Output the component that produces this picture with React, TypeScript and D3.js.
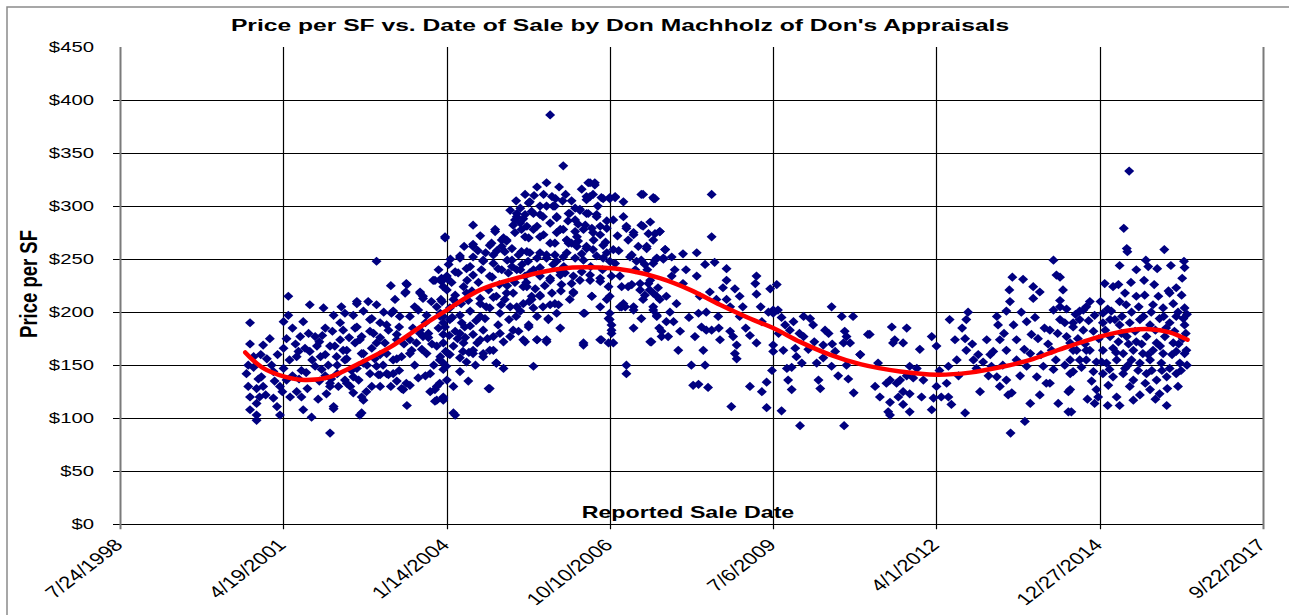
import React, { useEffect, useRef } from "react";
import * as d3 from "d3";

// [decimal year of sale, price per SF]
const sales2000to2002: [number, number][] = [
  [2000.74, 190], [2000.74, 170], [2000.71, 150], [2000.68, 142], [2000.8, 148], [2000.88, 137], [2000.71, 130],
  [2000.85, 128], [2000.74, 120], [2000.85, 114], [2000.74, 108], [2000.85, 103], [2000.85, 98], [2000.96, 169],
  [2001.07, 175], [2001.02, 156], [2000.93, 139], [2000.96, 130], [2001.13, 119], [2001.19, 111], [2001.24, 103],
  [2001.13, 144], [2001.3, 147], [2001.3, 166], [2001.3, 191], [2001.38, 197], [2001.38, 215], [2001.24, 130],
  [2001.35, 136], [2001.41, 120], [2001.52, 125], [2001.6, 120], [2001.63, 108], [2001.77, 101], [2001.52, 158],
  [2001.58, 177], [2001.63, 191], [2001.74, 207], [2001.74, 163], [2001.83, 177], [2001.86, 168], [2001.83, 149],
  [2001.94, 146], [2001.97, 204], [2002.08, 168], [2002.08, 130], [2002.02, 123], [2002.14, 111], [2002.08, 86],
  [2002.14, 197], [2002.25, 190], [2002.25, 174], [2002.3, 164], [2002.36, 156], [2002.33, 136], [2002.42, 130],
  [2002.47, 139], [2002.53, 208], [2002.53, 186], [2002.58, 174], [2002.61, 161], [2002.64, 117], [2002.61, 105],
  [2002.69, 125], [2002.75, 193], [2002.81, 180], [2002.86, 207], [2002.86, 248], [2002.86, 171], [2002.86, 149],
  [2002.89, 141], [2002.92, 130], [2001.5, 170], [2001.55, 163], [2001.66, 166], [2001.9, 172], [2002.0, 160],
  [2001.95, 178], [2001.45, 140], [2001.56, 137], [2001.68, 143], [2002.0, 140], [2002.1, 137], [2002.2, 142],
  [2001.2, 160], [2001.1, 150], [2001.28, 125], [2001.7, 128], [2001.88, 118], [2000.92, 160], [2001.0, 122],
  [2002.05, 150], [2001.78, 155], [2001.4, 155],
  [2002.53, 210], [2002.33, 199], [2002.47, 197], [2002.64, 201], [2002.78, 194], [2002.92, 190],
  [2002.3, 183], [2002.5, 185], [2002.61, 177], [2002.75, 182], [2002.92, 176], [2002.16, 168], [2002.36, 164],
  [2002.5, 171], [2002.64, 161], [2002.78, 166], [2002.92, 160], [2002.19, 158], [2002.33, 155], [2002.53, 147],
  [2002.64, 152], [2002.75, 142], [2002.92, 141], [2002.08, 133], [2002.22, 130], [2002.36, 133], [2002.47, 124],
  [2002.61, 120], [2002.78, 130], [2002.14, 109], [2002.58, 103],
];

const sales2003to2004: [number, number][] = [
  [2003.03, 142], [2003.03, 161], [2003.03, 188], [2003.14, 201], [2003.17, 212], [2003.2, 174], [2003.2, 156],
  [2003.14, 142], [2003.31, 127], [2003.36, 133], [2003.34, 218], [2003.36, 227], [2003.42, 196], [2003.45, 164],
  [2003.53, 171], [2003.59, 183], [2003.59, 218], [2003.64, 213], [2003.64, 177], [2003.73, 180], [2003.76, 142],
  [2003.81, 230], [2003.84, 127], [2003.87, 117], [2003.92, 133], [2003.98, 224], [2003.98, 190], [2004.06, 161],
  [2004.03, 149], [2004.15, 105], [2003.37, 226], [2003.35, 219], [2003.59, 219], [2003.64, 215], [2003.84, 230],
  [2003.95, 229], [2004.04, 232], [2003.11, 199], [2003.25, 196], [2003.56, 202], [2003.7, 197], [2003.87, 205],
  [2003.98, 196], [2003.06, 183], [2003.2, 179], [2003.42, 174], [2003.59, 180], [2003.73, 176], [2003.87, 168],
  [2003.98, 179], [2003.14, 155], [2003.28, 158], [2003.42, 161], [2003.7, 161], [2003.92, 155], [2003.06, 141],
  [2003.2, 135], [2003.28, 128], [2003.42, 131], [2003.56, 138], [2003.76, 125], [2003.87, 130], [2003.98, 120],
  [2003.37, 112], [2003.84, 116],
  [2004.23, 237], [2004.04, 232], [2004.43, 243], [2004.65, 249], [2004.82, 246], [2004.96, 240], [2004.48, 282],
  [2004.48, 264], [2004.26, 253], [2004.01, 271], [2004.79, 265], [2004.96, 262], [2004.85, 278], [2004.99, 270],
  [2004.15, 212], [2004.37, 218], [2004.6, 208], [2004.82, 214], [2003.93, 199], [2004.09, 193], [2004.26, 180],
  [2004.43, 187], [2004.6, 174], [2004.76, 164], [2004.93, 180], [2003.98, 152], [2004.26, 144], [2004.4, 135],
  [2004.15, 130], [2003.98, 117], [2004.18, 103], [2004.76, 128], [2004.87, 152], [2004.99, 147], [2004.48, 161],
  [2004.65, 158], [2004.85, 276], [2004.01, 270], [2004.96, 268], [2004.76, 263], [2004.48, 262], [2004.26, 251],
  [2004.48, 252], [2004.65, 248], [2004.82, 254], [2003.95, 232], [2004.04, 234], [2004.18, 238], [2004.37, 241],
  [2004.48, 235], [2004.62, 240], [2004.76, 234], [2004.9, 241], [2004.04, 221], [2004.18, 216], [2004.32, 224],
  [2004.46, 220], [2004.6, 213], [2004.74, 221], [2004.87, 215], [2003.93, 196], [2004.09, 204], [2004.26, 197],
  [2004.43, 201], [2004.6, 196], [2004.76, 204], [2004.93, 199], [2004.01, 186], [2004.18, 182], [2004.34, 186],
  [2004.48, 179], [2004.65, 183], [2004.82, 177], [2004.99, 172], [2003.98, 171], [2004.15, 168], [2004.32, 171],
  [2004.48, 164], [2004.65, 161], [2004.82, 164], [2003.93, 158], [2004.09, 160], [2004.26, 157], [2004.37, 153],
  [2004.87, 152], [2003.98, 146], [2004.04, 136], [2004.74, 128], [2003.98, 119],
];

const sales2005to2007: [number, number][] = [
  [2005.77, 386], [2005.99, 338], [2005.55, 318], [2005.71, 322], [2005.8, 309], [2005.86, 307], [2006.41, 322],
  [2006.52, 322], [2006.44, 309], [2006.38, 306], [2006.63, 308], [2006.77, 308], [2006.86, 308], [2007.0, 304],
  [2007.33, 311], [2007.5, 308], [2005.43, 304], [2005.27, 298], [2005.21, 293], [2005.35, 292], [2005.49, 293],
  [2005.6, 300], [2005.82, 300], [2005.88, 289], [2005.65, 290], [2006.27, 297], [2006.19, 298], [2006.38, 293],
  [2006.55, 290], [2006.72, 286], [2006.61, 281], [2006.49, 275], [2006.33, 278], [2006.22, 271], [2005.99, 278],
  [2005.88, 275], [2006.05, 268], [2005.77, 265], [2005.6, 271], [2005.49, 278], [2005.38, 281], [2005.27, 284],
  [2005.18, 287], [2005.35, 271], [2005.18, 275], [2005.04, 268], [2005.13, 260], [2005.29, 257], [2005.43, 256],
  [2005.6, 256], [2005.71, 251], [2005.85, 254], [2006.13, 265], [2006.22, 262], [2006.38, 262], [2006.55, 253],
  [2006.72, 256], [2006.86, 246], [2007.05, 281], [2007.17, 275], [2007.33, 281], [2007.39, 262], [2007.5, 268],
  [2007.14, 254], [2007.3, 249], [2007.5, 246], [2005.13, 243], [2005.27, 240], [2005.43, 237], [2005.6, 242],
  [2005.77, 230], [2005.94, 235], [2006.13, 227], [2006.27, 230], [2006.44, 235], [2006.61, 229], [2006.75, 224],
  [2006.94, 234], [2007.08, 224], [2007.28, 227], [2007.44, 221], [2005.04, 218], [2005.21, 205], [2005.38, 224],
  [2005.46, 212], [2005.6, 215], [2005.85, 208], [2005.88, 199], [2006.1, 212], [2006.16, 219], [2006.33, 199],
  [2006.47, 215], [2006.61, 205], [2006.72, 212], [2006.77, 199], [2007.0, 208], [2007.17, 202], [2007.33, 212],
  [2007.5, 205], [2005.15, 183], [2005.32, 174], [2005.41, 186], [2005.74, 194], [2005.94, 185], [2005.55, 174],
  [2005.71, 174], [2006.33, 169], [2006.63, 174], [2006.8, 183], [2006.77, 193], [2006.83, 171], [2006.97, 205],
  [2007.17, 185], [2007.47, 172], [2007.05, 150], [2007.05, 142], [2005.49, 149],
  [2005.66, 311], [2005.41, 303], [2005.46, 295], [2005.21, 290], [2005.32, 288], [2005.6, 292], [2005.71, 300],
  [2005.85, 300], [2005.88, 290], [2006.08, 293], [2005.15, 282], [2005.29, 278], [2005.55, 281], [2005.77, 284],
  [2005.94, 278], [2005.04, 267], [2005.41, 270], [2005.66, 273], [2005.85, 265], [2006.05, 268], [2005.01, 257],
  [2005.13, 249], [2005.24, 254], [2005.38, 257], [2005.55, 251], [2005.71, 254], [2005.88, 248], [2005.99, 252],
  [2005.07, 237], [2005.21, 240], [2005.35, 234], [2005.49, 240], [2005.6, 234], [2005.77, 232], [2005.94, 238],
  [2005.01, 212], [2005.15, 218], [2005.32, 224], [2005.46, 215], [2005.6, 216], [2005.77, 207], [2005.91, 207],
  [2005.49, 204], [2005.32, 208], [2005.1, 205], [2005.27, 201], [2005.41, 188], [2005.24, 182], [2005.74, 193],
  [2005.1, 177], [2005.35, 172], [2005.55, 174], [2005.71, 172],
  [2006.44, 322], [2006.52, 320], [2006.38, 309], [2006.49, 311], [2006.66, 307], [2006.77, 307], [2006.86, 309],
  [2007.3, 311], [2007.51, 307], [2006.1, 293], [2006.27, 296], [2006.41, 293], [2006.55, 292], [2006.19, 287],
  [2006.19, 276], [2006.36, 282], [2006.47, 279], [2006.61, 273], [2006.72, 279], [2006.83, 287], [2007.05, 279],
  [2007.3, 282], [2007.17, 273], [2007.42, 274], [2007.61, 276], [2006.08, 265], [2006.24, 267], [2006.38, 260],
  [2006.49, 259], [2006.66, 263], [2006.83, 259], [2007.11, 252], [2007.39, 260], [2007.7, 259], [2006.19, 251],
  [2006.33, 249], [2006.66, 251], [2006.77, 248], [2007.22, 248], [2007.36, 245], [2007.53, 249], [2007.67, 251],
  [2006.02, 237], [2006.16, 234], [2006.3, 238], [2006.44, 230], [2006.61, 232], [2006.8, 234], [2006.97, 224],
  [2007.14, 226], [2007.28, 221], [2007.42, 227], [2007.58, 223], [2005.96, 226], [2006.16, 218], [2006.47, 215],
  [2006.77, 215], [2006.94, 205], [2007.17, 205], [2007.36, 216], [2007.56, 215], [2006.35, 199], [2006.75, 194],
  [2006.8, 188], [2006.8, 180], [2007.3, 194], [2007.56, 197], [2007.64, 182], [2006.61, 174], [2006.33, 171],
  [2006.75, 171], [2007.03, 205],
];

const sales2008to2010: [number, number][] = [
  [2007.53, 307], [2008.48, 311], [2008.48, 271], [2007.53, 274], [2007.61, 276], [2007.7, 259], [2007.56, 251],
  [2007.67, 250], [2007.81, 252], [2008.0, 255], [2008.23, 256], [2007.86, 240], [2007.81, 234], [2008.37, 245],
  [2008.53, 247], [2008.73, 241], [2008.23, 234], [2008.73, 230], [2009.23, 234], [2009.21, 227], [2009.23, 217],
  [2009.57, 226], [2009.46, 222], [2007.45, 230], [2007.5, 218], [2007.61, 212], [2007.72, 215], [2007.89, 208],
  [2008.0, 227], [2008.45, 219], [2008.67, 223], [2008.87, 222], [2008.95, 215], [2008.73, 212], [2008.56, 212],
  [2008.28, 215], [2007.5, 202], [2007.56, 196], [2007.72, 191], [2007.84, 191], [2008.26, 199], [2008.39, 200],
  [2008.59, 196], [2008.79, 205], [2008.95, 196], [2009.43, 200], [2009.51, 202], [2009.59, 202], [2009.51, 199],
  [2009.32, 191], [2010.02, 196], [2010.13, 194], [2010.49, 205], [2010.66, 196], [2010.85, 196], [2011.1, 179],
  [2009.71, 188], [2009.85, 191], [2009.79, 183], [2010.18, 188], [2010.38, 183], [2010.44, 180], [2010.71, 182],
  [2010.74, 177], [2010.8, 171], [2007.45, 172], [2007.64, 177], [2007.75, 177], [2007.92, 164], [2008.2, 177],
  [2008.34, 164], [2008.31, 186], [2008.39, 183], [2008.48, 183], [2008.62, 174], [2008.79, 182], [2008.84, 177],
  [2008.9, 169], [2008.87, 161], [2008.9, 156], [2009.12, 178], [2009.23, 171], [2009.51, 169], [2009.51, 163],
  [2009.68, 164], [2009.88, 166], [2010.02, 177], [2010.35, 169], [2010.69, 171], [2010.97, 160], [2009.9, 158],
  [2009.99, 152], [2009.74, 147], [2009.82, 148], [2010.24, 152], [2010.35, 157], [2010.49, 149], [2010.55, 163],
  [2010.74, 150], [2008.14, 150], [2008.37, 150], [2009.49, 145], [2009.76, 136], [2009.82, 127], [2009.4, 134],
  [2009.32, 125], [2009.12, 130], [2008.17, 131], [2008.26, 132], [2008.42, 129], [2008.81, 111], [2009.4, 110],
  [2009.65, 107], [2010.27, 136], [2010.3, 128], [2010.77, 137], [2010.86, 124], [2009.96, 93], [2010.7, 93],
];

const sales2011to2014: [number, number][] = [
  [2010.97, 160], [2011.13, 179], [2011.22, 130], [2011.27, 152], [2011.5, 186], [2011.75, 185], [2011.55, 174],
  [2011.69, 171], [2011.52, 171], [2011.97, 165], [2012.17, 177], [2012.25, 168], [2011.47, 136], [2011.58, 133],
  [2011.64, 136], [2011.41, 133], [2011.8, 149], [2011.92, 147], [2011.86, 138], [2012.03, 136], [2011.69, 125],
  [2011.61, 120], [2011.8, 123], [2011.47, 115], [2011.69, 113], [2011.44, 106], [2011.47, 103], [2011.8, 106],
  [2012.17, 108], [2012.25, 130], [2012.2, 119], [2012.33, 120], [2012.45, 149], [2012.42, 133], [2012.45, 120],
  [2012.5, 113], [2012.47, 193], [2012.59, 155], [2012.56, 174], [2012.78, 200], [2012.75, 193], [2012.73, 175],
  [2012.75, 164], [2012.73, 105], [2012.87, 155], [2012.92, 147], [2012.98, 125], [2013.03, 153], [2013.09, 174],
  [2013.17, 149], [2013.2, 163], [2013.26, 196], [2013.28, 188], [2013.31, 174], [2013.26, 139], [2013.31, 130],
  [2013.42, 136], [2013.42, 164], [2013.45, 122], [2013.51, 124], [2013.42, 201], [2013.48, 210], [2013.47, 221],
  [2013.52, 233], [2013.54, 188], [2013.59, 174], [2013.59, 155], [2013.7, 231], [2013.76, 191], [2013.76, 149],
  [2013.82, 161], [2013.84, 179], [2013.87, 224], [2013.98, 219], [2013.87, 213], [2013.82, 114], [2013.73, 97],
  [2013.49, 86], [2013.98, 122], [2013.93, 139], [2014.04, 149], [2014.09, 133], [2014.21, 249], [2014.26, 235],
  [2014.32, 233], [2014.21, 202], [2014.32, 205], [2014.43, 203], [2014.15, 183], [2014.32, 193], [2014.43, 177],
  [2014.54, 190], [2014.65, 201], [2014.76, 205], [2014.18, 164], [2014.21, 146], [2014.15, 133], [2014.29, 114],
  [2014.46, 125], [2014.46, 106], [2014.37, 221], [2014.32, 211], [2014.54, 164], [2014.65, 155], [2014.76, 164],
  [2014.49, 142],
];

const sales2015to2016: [number, number][] = [
  [2015.48, 333], [2015.39, 279], [2015.44, 260], [2015.45, 257], [2016.07, 259], [2015.32, 244], [2015.6, 240],
  [2015.76, 249], [2015.8, 243], [2015.95, 241], [2016.18, 244], [2016.4, 248], [2016.41, 242], [2015.07, 227],
  [2015.21, 224], [2015.3, 226], [2015.51, 228], [2015.73, 230], [2015.9, 226], [2016.27, 223], [2016.16, 218],
  [2016.36, 216], [2014.82, 210], [2014.71, 202], [2014.65, 193], [2014.9, 197], [2015.04, 199], [2015.18, 201],
  [2015.32, 210], [2015.43, 207], [2015.6, 215], [2015.74, 216], [2015.88, 207], [2016.05, 204], [2016.22, 208],
  [2016.41, 204], [2016.39, 194], [2015.04, 190], [2015.16, 193], [2015.32, 188], [2015.49, 190], [2015.66, 193],
  [2015.83, 188], [2015.99, 194], [2016.16, 190], [2016.27, 196], [2016.41, 188], [2014.54, 186], [2014.71, 183],
  [2014.88, 182], [2015.16, 177], [2015.3, 172], [2015.44, 177], [2015.6, 172], [2015.77, 177], [2015.94, 171],
  [2016.08, 177], [2016.22, 171], [2016.38, 175], [2016.44, 164], [2016.41, 161], [2014.49, 171], [2014.6, 164],
  [2014.82, 164], [2015.04, 164], [2015.21, 166], [2015.38, 161], [2015.55, 164], [2015.71, 161], [2015.88, 164],
  [2016.05, 161], [2016.27, 163], [2014.49, 155], [2014.76, 155], [2014.93, 153], [2015.1, 152], [2015.27, 155],
  [2015.46, 150], [2015.66, 152], [2015.83, 155], [2016.02, 152], [2016.16, 147], [2016.33, 152], [2014.54, 144],
  [2014.88, 144], [2015.04, 142], [2015.21, 139], [2015.38, 142], [2015.55, 136], [2015.77, 142], [2015.94, 136],
  [2016.11, 139], [2016.27, 142], [2015.13, 131], [2015.49, 130], [2015.66, 122], [2015.83, 127], [2015.99, 123],
  [2014.93, 127], [2014.96, 120], [2014.9, 114], [2015.27, 120], [2015.32, 112], [2015.55, 117], [2016.11, 112],
  [2014.49, 127], [2014.51, 106],
];

// more sales read from the densest parts of the cloud
const extra2000to2004: [number, number][] = [
  [2002.12, 182], [2002.2, 150], [2002.27, 205], [2002.4, 176], [2002.44, 145], [2002.56, 136], [2002.7, 150],
  [2002.72, 210], [2002.83, 156], [2002.98, 200], [2002.97, 150], [2003.0, 171], [2003.1, 130], [2003.1, 225],
  [2003.24, 186], [2003.24, 145], [2003.32, 170], [2003.47, 185], [2003.5, 150], [2003.5, 205], [2003.62, 165],
  [2003.68, 190], [2003.68, 140], [2003.78, 210], [2003.79, 170], [2003.82, 150], [2003.9, 185], [2003.9, 240],
  [2003.94, 212], [2001.6, 145], [2001.72, 180], [2001.9, 135], [2001.92, 158], [2002.0, 185], [2001.35, 175],
  [2001.45, 185], [2001.15, 135], [2000.8, 158], [2000.9, 120],
];

const extra2004to2007: [number, number][] = [
  [2004.07, 245], [2004.12, 228], [2004.2, 209], [2004.29, 190], [2004.35, 176], [2004.41, 162], [2004.52, 150],
  [2004.57, 228], [2004.7, 205], [2004.53, 192], [2004.4, 211], [2004.13, 195], [2004.22, 175], [2004.31, 163],
  [2004.55, 171], [2004.68, 194], [2004.72, 175], [2004.9, 188], [2004.95, 207], [2004.92, 226], [2004.8, 233],
  [2004.69, 256], [2004.56, 258], [2004.38, 230], [2004.28, 208], [2004.08, 178], [2004.02, 163], [2003.96, 210],
  [2004.1, 250], [2004.33, 262], [2004.6, 272], [2004.88, 258], [2005.05, 249], [2005.05, 225], [2005.08, 193],
  [2005.2, 196], [2005.18, 228], [2005.3, 245], [2005.4, 248], [2005.37, 228], [2005.42, 210], [2005.52, 222],
  [2005.55, 196], [2005.65, 205], [2005.68, 225], [2005.8, 218], [2005.82, 245], [2005.95, 220], [2006.0, 243],
  [2006.05, 256], [2006.07, 286], [2006.13, 305], [2006.24, 283], [2006.3, 255], [2006.45, 243], [2006.5, 268],
  [2006.57, 300], [2006.65, 240], [2006.7, 266], [2006.9, 272], [2006.92, 258], [2007.0, 290], [2007.08, 268],
  [2007.2, 240], [2007.25, 262], [2007.4, 240], [2007.45, 285], [2005.98, 305], [2005.92, 318], [2006.03, 311],
  [2006.3, 316], [2005.5, 310], [2005.35, 311], [2005.2, 305], [2005.1, 296],
];

const extra2007to2014: [number, number][] = [
  [2007.6, 185], [2007.78, 200], [2007.95, 182], [2008.1, 195], [2008.05, 240], [2008.6, 185], [2009.0, 205],
  [2009.05, 185], [2009.3, 205], [2009.6, 180], [2009.65, 195], [2009.95, 180], [2010.1, 165], [2010.2, 172],
  [2010.5, 170], [2010.6, 140], [2012.62, 140], [2012.68, 185], [2012.85, 170], [2012.95, 160], [2013.12, 140],
  [2013.15, 160], [2013.36, 150], [2013.38, 180], [2013.65, 140], [2013.67, 200], [2013.72, 165], [2013.9, 195],
  [2013.95, 175], [2014.0, 160], [2014.06, 185], [2014.12, 170], [2014.25, 155], [2014.28, 180], [2014.4, 150],
  [2014.4, 190], [2012.3, 145], [2012.0, 120], [2011.75, 140], [2011.3, 120],
];

const extra2014to2016: [number, number][] = [
  [2014.58, 198], [2014.62, 175], [2014.68, 148], [2014.74, 170], [2014.8, 192], [2014.85, 135], [2014.97, 175],
  [2015.0, 210], [2015.02, 153], [2015.08, 183], [2015.12, 203], [2015.15, 146], [2015.24, 193], [2015.26, 162],
  [2015.35, 180], [2015.36, 196], [2015.41, 147], [2015.41, 218], [2015.47, 170], [2015.52, 200], [2015.52, 155],
  [2015.58, 182], [2015.63, 145], [2015.64, 205], [2015.69, 170], [2015.72, 196], [2015.75, 133], [2015.8, 160],
  [2015.85, 200], [2015.86, 145], [2015.92, 183], [2015.97, 215], [2016.0, 168], [2016.03, 145], [2016.06, 196],
  [2016.1, 185], [2016.12, 128], [2016.14, 220], [2016.2, 160], [2016.24, 182], [2016.3, 200], [2016.31, 170],
  [2016.35, 145], [2016.37, 232], [2016.43, 180], [2016.45, 198], [2016.45, 150], [2016.3, 130], [2015.92, 118],
  [2015.12, 112], [2014.78, 118],
];

// red polynomial trend line
const trendYears = [
  2000.66, 2000.94, 2001.33, 2001.66, 2002.08, 2002.58, 2003.09, 2003.59, 2004.04, 2004.6, 2005.27, 2005.94,
  2006.61, 2007.11, 2007.61, 2008.12, 2008.62, 2009.12, 2009.51, 2009.96, 2010.46, 2010.97, 2011.64, 2012.26,
  2012.81, 2013.31, 2013.82, 2014.32, 2014.99, 2015.49, 2015.83, 2016.16, 2016.46,
];
const trendPrices = [
  162, 148, 139, 136, 139, 152, 167, 186, 202, 221, 233, 241,
  242, 239, 232, 221, 207, 194, 185, 172, 160, 151, 144, 141,
  143, 148, 155, 165, 177, 183, 184, 181, 174,
];

const yTicks = [0, 50, 100, 150, 200, 250, 300, 350, 400, 450];
const xTickLabels = ["7/24/1998", "4/19/2001", "1/14/2004", "10/10/2006", "7/6/2009", "4/1/2012", "12/27/2014", "9/22/2017"];

const toDate = (yr: number) => {
  const y0 = Math.floor(yr);
  const start = new Date(y0, 0, 1).getTime();
  return new Date(start + (yr - y0) * 365.25 * 864e5);
};

const App = () => {
  const svgRef = useRef<SVGSVGElement>(null);
  const svgWidth = 1289;
  const svgHeight = 615;

  useEffect(() => {
    const LEFT = 120;
    const RIGHT = 1263;
    const TOP = 47;
    const BOTTOM = 524.3;
    const FONT = "'Liberation Sans', Arial, sans-serif";

    const svg = d3.select(svgRef.current);
    svg.selectAll("*").remove();

    const tickDates = xTickLabels.map((s) => d3.timeParse("%m/%d/%Y")(s)!);

    const x = d3.scaleTime().domain([tickDates[0], tickDates[tickDates.length - 1]]).range([LEFT, RIGHT]);
    const y = d3.scaleLinear().domain([0, 450]).range([BOTTOM, TOP]);

    // outer chart frame
    svg
      .append("rect")
      .attr("x", 7)
      .attr("y", 7)
      .attr("width", 1300)
      .attr("height", 700)
      .attr("fill", "white")
      .attr("stroke", "#8a8a8a")
      .attr("stroke-width", 1.5);

    const grid = svg.append("g");
    yTicks
      .filter((d) => d < 450)
      .forEach((d) => {
        grid
          .append("line")
          .attr("x1", LEFT - 7)
          .attr("x2", RIGHT)
          .attr("y1", Math.round(y(d)) + 0.5)
          .attr("y2", Math.round(y(d)) + 0.5)
          .attr("stroke", "#000")
          .attr("stroke-width", 1.2);
      });
    tickDates.forEach((d, i) => {
      const edge = i === 0 || i === tickDates.length - 1;
      grid
        .append("line")
        .attr("x1", Math.round(x(d)) + 0.5)
        .attr("x2", Math.round(x(d)) + 0.5)
        .attr("y1", TOP)
        .attr("y2", BOTTOM + 5)
        .attr("stroke", edge ? "#7a7a7a" : "#000")
        .attr("stroke-width", edge ? 2 : 1.2);
    });

    // y tick labels
    svg
      .append("g")
      .selectAll("text")
      .data(yTicks)
      .enter()
      .append("text")
      .attr("transform", (d) => `translate(94,${y(d) + 5}) scale(1.45,1)`)
      .attr("text-anchor", "end")
      .attr("font-family", FONT)
      .attr("font-size", 14)
      .attr("fill", "#000")
      .text((d) => `$${d}`);

    // x tick labels
    svg
      .append("g")
      .selectAll("text")
      .data(tickDates)
      .enter()
      .append("text")
      .attr("transform", (d) => `translate(${x(d) + 4},546) scale(1.3,1) rotate(-45)`)
      .attr("text-anchor", "end")
      .attr("font-family", FONT)
      .attr("font-size", 17)
      .attr("fill", "#000")
      .text((d, i) => xTickLabels[i]);

    // scatter
    const sales = [
      ...sales2000to2002,
      ...sales2003to2004,
      ...sales2005to2007,
      ...sales2008to2010,
      ...sales2011to2014,
      ...sales2015to2016,
      ...extra2000to2004,
      ...extra2004to2007,
      ...extra2007to2014,
      ...extra2014to2016,
    ];
    svg
      .append("g")
      .selectAll("path")
      .data(sales)
      .enter()
      .append("path")
      .attr("transform", (d) => `translate(${x(toDate(d[0]))},${y(d[1])})`)
      .attr("d", "M0,-4.6L5,0L0,4.6L-5,0Z")
      .attr("fill", "#000080");

    // trend line
    const trend = trendYears.map((yr, i) => [yr, trendPrices[i]] as [number, number]);
    const line = d3
      .line<[number, number]>()
      .x((d) => x(toDate(d[0])))
      .y((d) => y(d[1]))
      .curve(d3.curveCatmullRom.alpha(0.5));
    svg
      .append("path")
      .datum(trend)
      .attr("d", line)
      .attr("fill", "none")
      .attr("stroke", "#ff0000")
      .attr("stroke-width", 4.5)
      .attr("stroke-linecap", "round");

    // titles
    svg
      .append("text")
      .attr("transform", "translate(620,31) scale(1.45,1)")
      .attr("text-anchor", "middle")
      .attr("font-family", FONT)
      .attr("font-weight", "bold")
      .attr("font-size", 17)
      .text("Price per SF vs. Date of Sale by Don Machholz of Don's Appraisals");

    svg
      .append("text")
      .attr("transform", "translate(688,518) scale(1.45,1)")
      .attr("text-anchor", "middle")
      .attr("font-family", FONT)
      .attr("font-weight", "bold")
      .attr("font-size", 16)
      .text("Reported Sale Date");

    svg
      .append("text")
      .attr("transform", "translate(37,284) scale(1.3,1) rotate(-90)")
      .attr("text-anchor", "middle")
      .attr("font-family", FONT)
      .attr("font-weight", "bold")
      .attr("font-size", 18.5)
      .text("Price per SF");
  }, []);

  return (
    <svg
      ref={svgRef}
      width={svgWidth}
      height={svgHeight}
      style={{ position: "absolute", left: 0, top: 0, background: "white" }}
    />
  );
};

export default App;
